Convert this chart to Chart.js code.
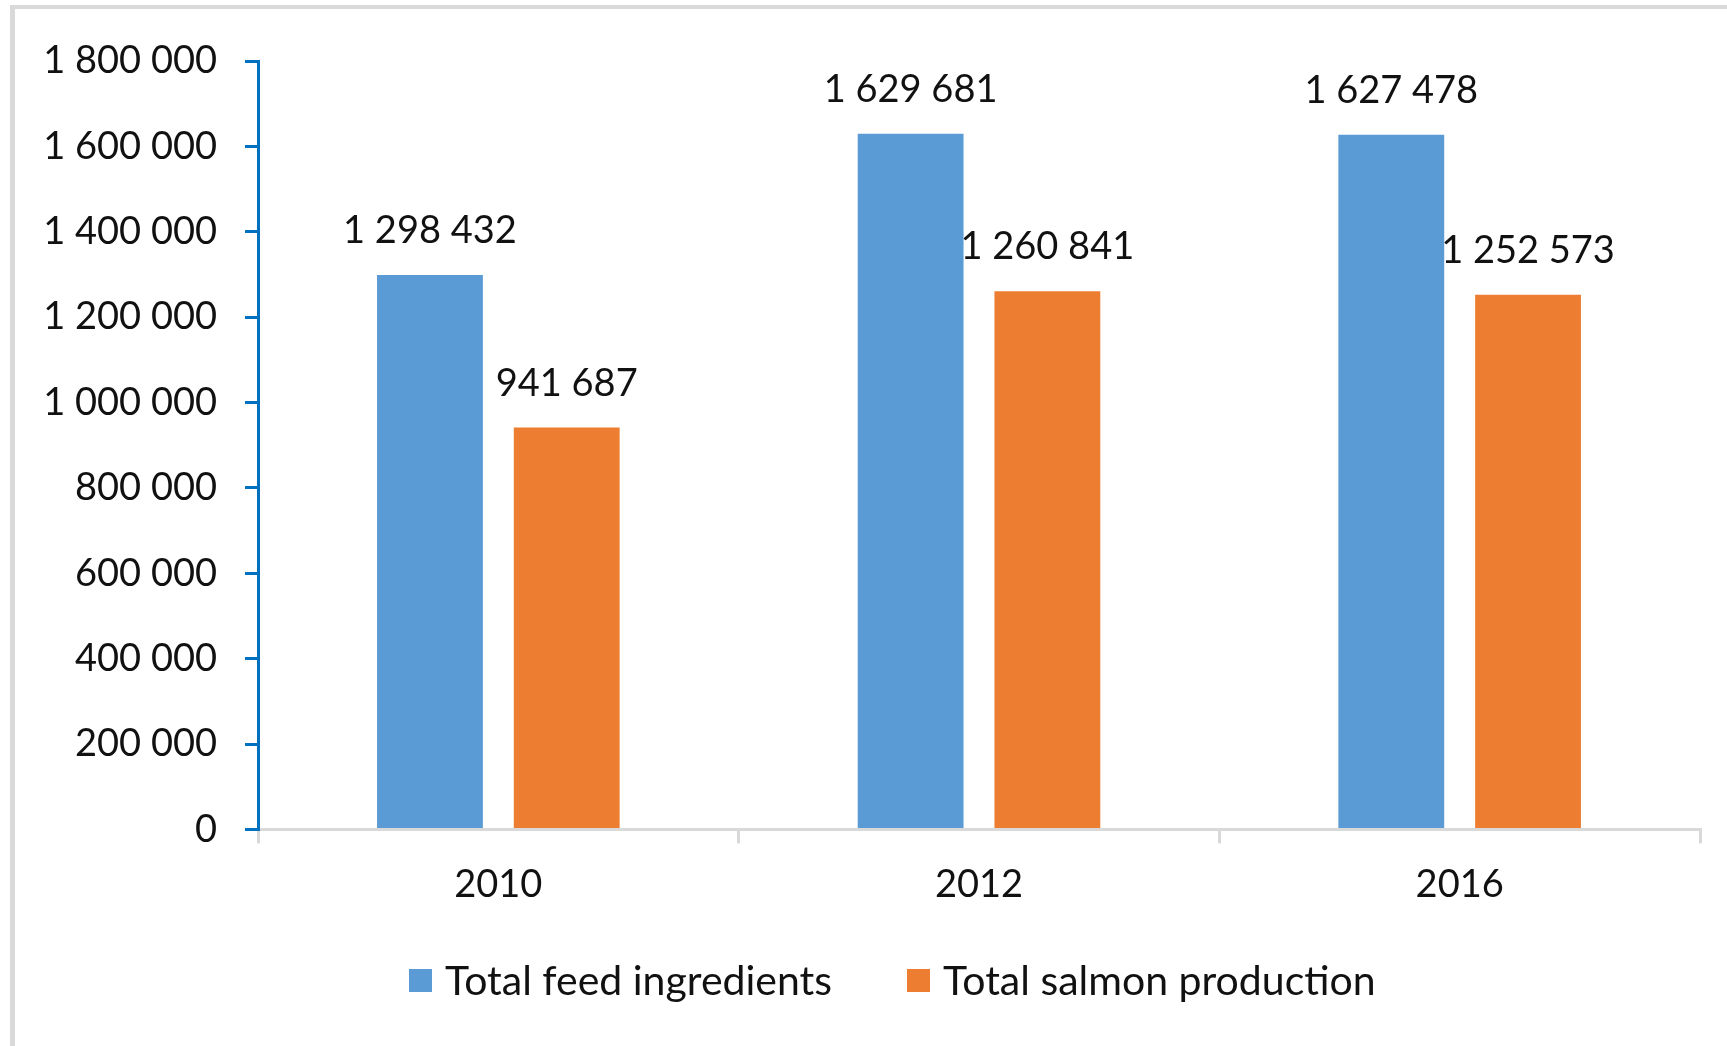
<!DOCTYPE html>
<html lang="en">
<head>
    <meta charset="UTF-8">
    <title>Feed ingredients and salmon production</title>
    <style>
        html, body {
            margin: 0;
            padding: 0;
            background-color: #fff;
            overflow: hidden;
        }

        .frame {
            position: absolute;
            left: 10px;
            top: 5px;
            width: 1800px;
            height: 1100px;
            border-left: 5px solid #d9d9d9;
            border-top: 4px solid #d9d9d9;
        }

        .chart-box {
            position: absolute;
            left: 0;
            top: 0;
            width: 1727px;
            height: 1046px;
        }

        .legend {
            position: absolute;
            left: 409px;
            top: 960px;
            display: flex;
            align-items: center;
            font-family: Lato, sans-serif;
            font-size: 41px;
            line-height: 40px;
            color: #111;
            white-space: nowrap;
        }

        .legend-item {
            display: flex;
            align-items: center;
            margin-right: 75px;
        }

        .legend-box {
            width: 23px;
            height: 23px;
            margin-right: 13px;
        }
    </style>
    <script src="https://cdn.jsdelivr.net/npm/chart.js"></script>
</head>
<body>
<div class="frame"></div>
<div class="chart-box">
    <canvas id="feedChart" width="1727" height="1046"></canvas>
</div>
<div class="legend" id="legend"></div>
<script>
    const years = ['2010', '2012', '2016'];
    const feedIngredients = [1298432, 1629681, 1627478];
    const salmonProduction = [941687, 1260841, 1252573];
    const yTicks = [0, 200000, 400000, 600000, 800000, 1000000, 1200000, 1400000, 1600000, 1800000];

    function spaced(n) {
        return String(n).replace(/\B(?=(\d{3})+(?!\d))/g, ' ');
    }

    // value labels above each bar
    const barLabels = {
        id: 'barLabels',
        afterDatasetsDraw(chart) {
            const ctx = chart.ctx;
            ctx.save();
            ctx.font = '38px Lato';
            ctx.fillStyle = '#111';
            ctx.textAlign = 'center';
            ctx.textBaseline = 'middle';
            chart.data.datasets.forEach((ds, i) => {
                chart.getDatasetMeta(i).data.forEach((bar, j) => {
                    ctx.fillText(spaced(ds.data[j]), bar.x, bar.y - 44);
                });
            });
            ctx.restore();
        }
    };

    // legend built from the chart's own legend items
    const htmlLegend = {
        id: 'htmlLegend',
        afterUpdate(chart) {
            const box = document.getElementById('legend');
            box.innerHTML = '';
            const items = chart.options.plugins.legend.labels.generateLabels(chart);
            items.forEach(item => {
                const li = document.createElement('div');
                li.className = 'legend-item';
                const sw = document.createElement('span');
                sw.className = 'legend-box';
                sw.style.background = item.fillStyle;
                const txt = document.createElement('span');
                txt.textContent = item.text;
                li.appendChild(sw);
                li.appendChild(txt);
                box.appendChild(li);
            });
        }
    };

    document.addEventListener('DOMContentLoaded', function () {
        const ctx = document.getElementById('feedChart').getContext('2d');
        new Chart(ctx, {
            type: 'bar',
            data: {
                labels: years,
                datasets: [{
                    label: 'Total feed ingredients',
                    data: feedIngredients,
                    backgroundColor: '#5b9bd5'
                }, {
                    label: 'Total salmon production',
                    data: salmonProduction,
                    backgroundColor: '#ed7d31'
                }]
            },
            options: {
                responsive: false,
                animation: false,
                devicePixelRatio: 1,
                categoryPercentage: 0.569,
                barPercentage: 0.774,
                layout: {
                    padding: {top: 61, right: 27, bottom: 119, left: 0}
                },
                plugins: {
                    tooltip: {enabled: false},
                    legend: {display: false}
                },
                scales: {
                    x: {
                        grid: {
                            drawOnChartArea: false,
                            color: '#d9d9d9',
                            lineWidth: 3,
                            tickLength: 14
                        },
                        border: {color: '#d9d9d9', width: 3},
                        ticks: {
                            color: '#111',
                            font: {family: 'Lato', size: 38},
                            padding: 19
                        }
                    },
                    y: {
                        min: 0,
                        max: yTicks[yTicks.length - 1],
                        afterBuildTicks(scale) {
                            scale.ticks = yTicks.map(v => ({value: v}));
                        },
                        grid: {
                            drawOnChartArea: false,
                            color: '#0070c0',
                            lineWidth: 3,
                            tickLength: 13
                        },
                        border: {color: '#0070c0', width: 3},
                        ticks: {
                            color: '#111',
                            font: {family: 'Lato', size: 38},
                            padding: 28,
                            callback: v => spaced(v)
                        },
                        afterFit(scale) {
                            scale.width = 258;
                        }
                    }
                }
            },
            plugins: [barLabels, htmlLegend]
        });
    });
</script>
</body>
</html>
